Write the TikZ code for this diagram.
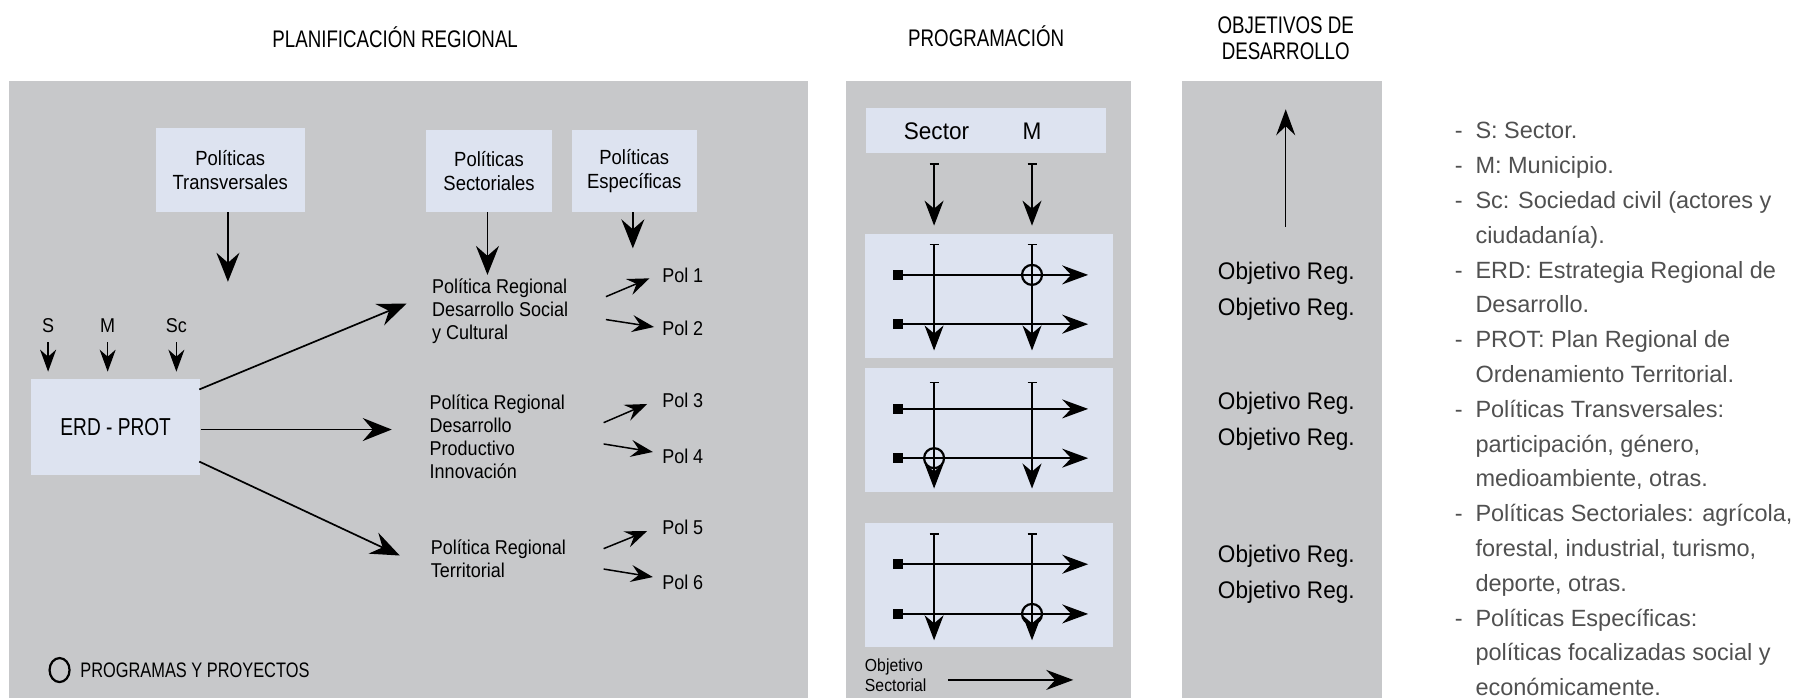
\documentclass[tikz,border=0pt]{standalone}
\usepackage{fontspec}
\setmainfont{Liberation Sans}
\newfontfamily\ftitle{Liberation Sans}[FakeStretch=0.78]
\newfontfamily\fdiag{Liberation Sans}[FakeStretch=0.90]
\newfontfamily\fobj{Liberation Sans}[FakeStretch=0.94]
\usetikzlibrary{arrows.meta,calc,shapes.geometric}
\definecolor{panelgray}{RGB}{199,200,202}
\definecolor{boxblue}{RGB}{221,227,240}
\definecolor{legendgray}{RGB}{80,80,80}
\tikzset{
 pbox/.style={rectangle, fill=boxblue, inner sep=0pt, align=center},
 ttl/.style={font=\ftitle\fontsize{24}{26.5}\selectfont, align=center, inner sep=0pt},
 btxt/.style={font=\fdiag\fontsize{20.5}{24}\selectfont},
 dtxt/.style={font=\fdiag\fontsize{20}{23}\selectfont, inner sep=0pt, align=left},
 otxt/.style={font=\fobj\fontsize{24}{35.5}\selectfont, inner sep=0pt, align=center},
 leg/.style={font=\fontsize{23.5}{30}\selectfont, text=legendgray, anchor=west, inner sep=0pt, text height=17pt, text depth=5pt},
 bigarr/.style={line width=1.7pt, -{Stealth[length=29pt,width=23pt,inset=10pt]}},
 smallarr/.style={line width=1.6pt, -{Stealth[length=22pt,width=16pt,inset=7pt]}},
 polarr/.style={line width=1.5pt, -{Stealth[length=22pt,width=17pt,inset=8pt]}},
 thinarr/.style={line width=1.3pt, -{Stealth[length=26pt,width=19pt,inset=9pt]}},
 tarr/.style={line width=1.3pt, {Bar[width=9pt]}-{Stealth[length=25pt,width=19pt,inset=8pt]}},
 harr/.style={line width=1.9pt, -{Stealth[length=26pt,width=19pt,inset=9pt]}},
 sqr/.style={rectangle, fill=black, minimum size=10.5pt, inner sep=0pt},
 ring/.style={circle, draw=black, line width=2.2pt, minimum size=20pt, inner sep=0pt},
}
\begin{document}
\begin{tikzpicture}[x=1.1454pt,y=-1.1454pt]
\useasboundingbox (0,0) rectangle (1568,609);
% panels
\fill[panelgray] (8.2,70.7) rectangle (705,609);
\fill[panelgray] (738.6,70.7) rectangle (987.5,609);
\fill[panelgray] (1032,70.7) rectangle (1206.6,609);
% titles
\node[ttl] (t1) at (345,32.6) {PLANIFICACIÓN REGIONAL};
\node[ttl] (t2) at (861,32) {PROGRAMACIÓN};
\node[ttl] (t3) at (1122.5,33.5) {OBJETIVOS DE\\DESARROLLO};
% ---------- left panel ----------
\node[pbox, btxt, minimum width=148.9pt, minimum height=83.6pt] (trans) at (201,148.5) {Políticas\\Transversales};
\node[pbox, btxt, minimum width=126pt, minimum height=81.9pt] (sect) at (427,149.25) {Políticas\\Sectoriales};
\node[pbox, btxt, minimum width=125.4pt, minimum height=81.9pt] (espec) at (553.75,149.25) {Políticas\\Específicas};
\node[pbox, font=\ftitle\fontsize{24.5}{28}\selectfont, minimum width=169.5pt, minimum height=96.2pt] (erd) at (101,373) {ERD - PROT};

\coordinate (transE) at (199,246);
\coordinate (sectE) at (425.6,240);
\coordinate (especE) at (552.5,216.8);
\draw[bigarr] (trans.south -| transE) -- (transE);
\draw[bigarr] (sect.south -| sectE) -- (sectE);
\draw[bigarr] (espec.south -| especE) -- (especE);

\node[dtxt] (lS) at (42,284.6) {S};
\node[dtxt] (lM) at (94,284.6) {M};
\node[dtxt] (lSc) at (154,284.6) {Sc};
\coordinate (aS) at (42,299); \coordinate (bS) at (42,324.5);
\coordinate (aM) at (94,299); \coordinate (bM) at (94,324.5);
\coordinate (aSc) at (154,299); \coordinate (bSc) at (154,324.5);
\draw[smallarr] (aS) -- (bS);
\draw[smallarr] (aM) -- (bM);
\draw[smallarr] (aSc) -- (bSc);

\node[dtxt, anchor=west] (pr1) at (377,271.5) {Política Regional\\Desarrollo Social\\y Cultural};
\node[dtxt, anchor=west] (pr2) at (375,381) {Política Regional\\Desarrollo\\Productivo\\Innovación};
\node[dtxt, anchor=west] (pr3) at (376,488) {Política Regional\\Territorial};

\coordinate (e1s) at (174,340); \coordinate (e1e) at (355,265);
\coordinate (e2e) at (342,375);
\coordinate (e3s) at (174,403); \coordinate (e3e) at (349,485);
\draw[bigarr] (e1s) -- (e1e);
\draw[bigarr] (erd.east |- e2e) -- (e2e);
\draw[bigarr] (e3s) -- (e3e);

\node[dtxt, anchor=west] (p1) at (578,240) {Pol 1};
\node[dtxt, anchor=west] (p2) at (578,286.5) {Pol 2};
\node[dtxt, anchor=west] (p3) at (578,349.5) {Pol 3};
\node[dtxt, anchor=west] (p4) at (578,398) {Pol 4};
\node[dtxt, anchor=west] (p5) at (578,460) {Pol 5};
\node[dtxt, anchor=west] (p6) at (578,508) {Pol 6};
\coordinate (q1s) at (529,259);   \coordinate (q1e) at (567,243);
\coordinate (q2s) at (529,279);   \coordinate (q2e) at (571,285.5);
\coordinate (q3s) at (527,369);   \coordinate (q3e) at (565,352.7);
\coordinate (q4s) at (527,387.6); \coordinate (q4e) at (570,394.6);
\coordinate (q5s) at (527,479);   \coordinate (q5e) at (565,463.6);
\coordinate (q6s) at (527,496.8); \coordinate (q6e) at (570,503.8);
\foreach \i in {1,...,6} {\draw[polarr] (q\i s) -- (q\i e);}

\node[ellipse, draw=black, line width=2.2pt, minimum width=20pt, minimum height=24pt, inner sep=0pt] (ppring) at (52,585) {};
\node[font=\ftitle\fontsize{21}{24}\selectfont, inner sep=0pt, anchor=west] (pp) at (70,585.5) {PROGRAMAS Y PROYECTOS};

% ---------- middle panel ----------
\node[pbox, minimum width=240pt, minimum height=45.1pt] (secbox) at (860.8,114.3) {};
\node[otxt] (secT) at (817.6,114.4) {Sector};
\node[otxt] (mT) at (901,114.4) {M};
\coordinate (sva) at (815.5,142.6); \coordinate (svb) at (815.5,197);
\coordinate (mva) at (901,142.6); \coordinate (mvb) at (901,197);
\draw[tarr] (sva) -- (svb);
\draw[tarr] (mva) -- (mvb);

\foreach \k/\cy/\tk/\la/\lb/\tp/\cx/\cc in {1/258.4/213/240/283/306/901/240, 2/375.3/333.5/357/400/426.5/815.5/400, 3/510.9/465.6/492.6/536/559/901/536} {
  \node[pbox, minimum width=248.5pt, minimum height=123.5pt] (sub\k) at (863.3,\cy) {};
  \coordinate (va\k) at (815.5,\tk); \coordinate (vb\k) at (815.5,\tp);
  \coordinate (wa\k) at (901,\tk); \coordinate (wb\k) at (901,\tp);
  \coordinate (sa\k) at (784,\la); \coordinate (sb\k) at (784,\lb);
  \coordinate (ea\k) at (950,\la); \coordinate (eb\k) at (950,\lb);
  \draw[tarr] (va\k) -- (vb\k);
  \draw[tarr] (wa\k) -- (wb\k);
  \draw[harr] (sa\k) -- (ea\k);
  \draw[harr] (sb\k) -- (eb\k);
  \node[sqr] (qa\k) at (sa\k) {};
  \node[sqr] (qb\k) at (sb\k) {};
  \node[ring] (ring\k) at (\cx,\cc) {};
}
\node[font=\fdiag\fontsize{17.5}{20}\selectfont, inner sep=0pt, align=left, anchor=west] (objsec) at (755,589.5) {Objetivo\\Sectorial};
\coordinate (osa) at (827.6,593.6); \coordinate (osb) at (937,593.6);
\draw[line width=1.6pt, -{Stealth[length=27pt,width=20pt,inset=9pt]}] (osa) -- (osb);

% ---------- right panel ----------
\coordinate (upb) at (1122.5,198); \coordinate (upt) at (1122.5,95.4);
\draw[thinarr] (upb) -- (upt);
\node[otxt] (or1) at (1123,254.5) {Objetivo Reg.\\Objetivo Reg.};
\node[otxt] (or2) at (1123,368) {Objetivo Reg.\\Objetivo Reg.};
\node[otxt] (or3) at (1123,501.5) {Objetivo Reg.\\Objetivo Reg.};

% ---------- legend ----------
\foreach \y [count=\n] in {116,146.4,176.8,237.5,298.3,359,450.1,541.3} {
  \node[leg, anchor=center] (d\n) at (1273.5,\y) {-};
}
\node[leg] (L0) at (1288,116) {S: Sector.};
\node[leg] (L1) at (1288,146.4) {M: Municipio.};
\node[leg] (L2) at (1288,176.8) {Sc: Sociedad civil (actores y};
\node[leg] (L3) at (1288,207.1) {ciudadanía).};
\node[leg] (L4) at (1288,237.5) {ERD: Estrategia Regional de};
\node[leg] (L5) at (1288,267.9) {Desarrollo.};
\node[leg] (L6) at (1288,298.3) {PROT: Plan Regional de};
\node[leg] (L7) at (1288,328.6) {Ordenamiento Territorial.};
\node[leg] (L8) at (1288,359) {Políticas Transversales:};
\node[leg] (L9) at (1288,389.4) {participación, género,};
\node[leg] (L10) at (1288,419.8) {medioambiente, otras.};
\node[leg] (L11) at (1288,450.1) {Políticas Sectoriales: agrícola,};
\node[leg] (L12) at (1288,480.5) {forestal, industrial, turismo,};
\node[leg] (L13) at (1288,510.9) {deporte, otras.};
\node[leg] (L14) at (1288,541.3) {Políticas Específicas:};
\node[leg] (L15) at (1288,571.6) {políticas focalizadas social y};
\node[leg] (L16) at (1288,602) {económicamente.};
\end{tikzpicture}
\end{document}
